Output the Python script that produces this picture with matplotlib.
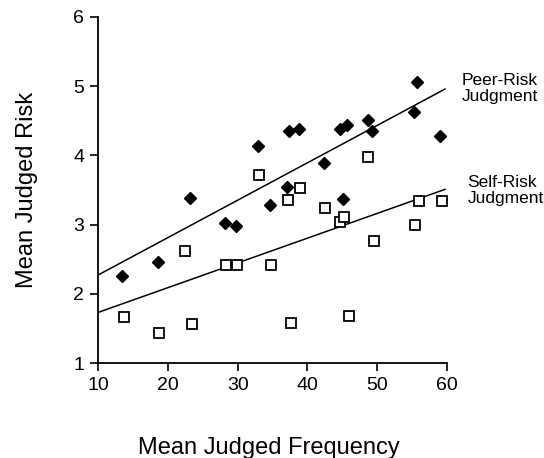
import numpy as np
import matplotlib
matplotlib.use('Agg')
import matplotlib.pyplot as plt

plt.rcParams['font.family'] = ['Liberation Sans', 'DejaVu Sans']

# peer-risk judgments (filled diamonds)
peer_x = [13.5, 18.6, 23.2, 28.2, 29.7, 32.9, 34.6, 37.1, 37.4, 38.8,
          42.3, 44.6, 45.1, 45.6, 48.6, 49.3, 55.2, 55.7, 59.0]
peer_y = [2.26, 2.46, 3.38, 3.03, 2.98, 4.14, 3.29, 3.55, 4.35, 4.38,
          3.89, 4.38, 3.37, 4.44, 4.51, 4.35, 4.63, 5.06, 4.28]

# self-risk judgments (open squares)
self_x = [13.7, 18.7, 22.4, 23.4, 28.3, 29.9, 33.0, 34.8, 37.2, 37.6,
          39.0, 42.5, 44.7, 45.3, 45.9, 48.7, 49.5, 55.4, 56.0, 59.2]
self_y = [1.67, 1.44, 2.62, 1.57, 2.41, 2.41, 3.71, 2.41, 3.36, 1.58,
          3.53, 3.24, 3.04, 3.11, 1.68, 3.97, 2.76, 2.99, 3.34, 3.34]

# fitted lines: intercept, slope
peer_fit = (1.729, 0.0541)
self_fit = (1.372, 0.0358)
fit_range = [10, 59.7]

x_ticks = [10, 20, 30, 40, 50, 60]
y_ticks = [1, 2, 3, 4, 5, 6]

fig = plt.figure(figsize=(5.44, 4.58), dpi=100)
ax = fig.add_axes([0.180, 0.2074, 0.642, 0.7556])

xs = np.array(fit_range)
ax.plot(xs, peer_fit[0] + peer_fit[1] * xs, color='black', lw=1.1)
ax.plot(xs, self_fit[0] + self_fit[1] * xs, color='black', lw=1.1)

ax.plot(peer_x, peer_y, 'D', color='black', ms=6.5, clip_on=False)
ax.plot(self_x, self_y, 's', mfc='white', mec='black', mew=1.3, ms=7.5,
        clip_on=False)

ax.text(62.1, 4.97, 'Peer-Risk\nJudgment', fontsize=12.5, ha='left',
        va='center', linespacing=1.1, clip_on=False)
ax.text(62.9, 3.49, 'Self-Risk\nJudgment', fontsize=12.5, ha='left',
        va='center', linespacing=1.1, clip_on=False)

ax.set_xlim(10, 60)
ax.set_ylim(1, 6)
ax.set_xticks(x_ticks)
ax.set_yticks(y_ticks)
ax.tick_params(direction='out', length=6, width=1.2, labelsize=14, pad=4)
for s in ['top', 'right']:
    ax.spines[s].set_visible(False)
for s in ['left', 'bottom']:
    ax.spines[s].set_linewidth(1.3)

ax.set_xlabel('Mean Judged Frequency', fontsize=17)
ax.set_ylabel('Mean Judged Risk', fontsize=17)
ax.xaxis.set_label_coords(0.49, -0.213)
ax.yaxis.set_label_coords(-0.172, 0.5)

fig.savefig('out.png', dpi=100)
